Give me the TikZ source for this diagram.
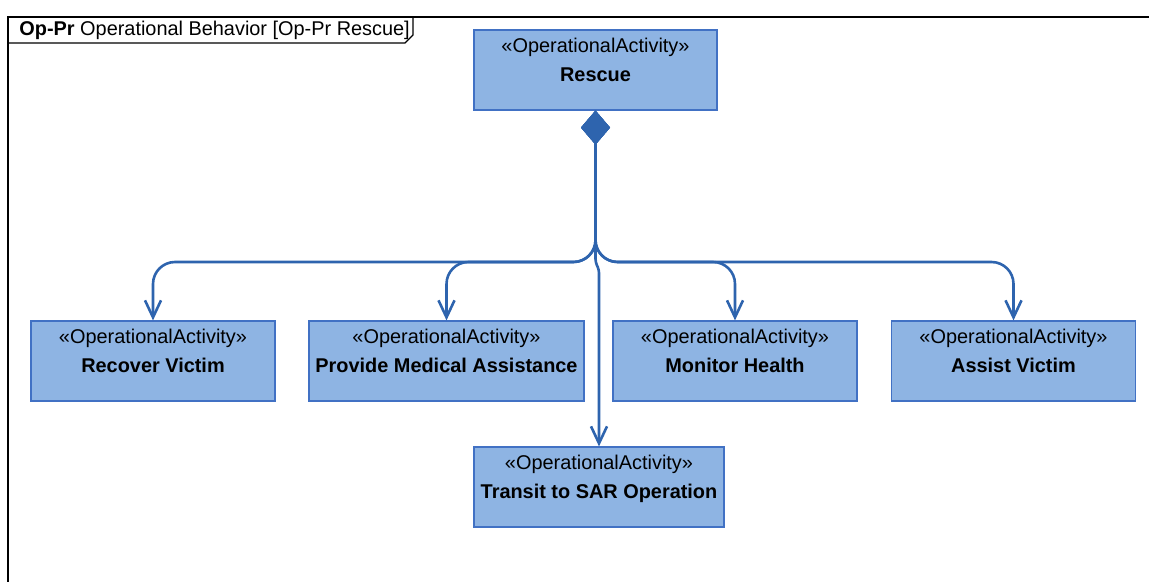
\documentclass[tikz,border=0pt]{standalone}
\usepackage{fontspec}
\setmainfont{Liberation Sans}
\usepackage{tikz}
\usetikzlibrary{arrows.meta}
\definecolor{actfill}{RGB}{142,180,227}
\definecolor{actdraw}{RGB}{65,113,196}
\definecolor{linkblue}{RGB}{46,100,174}
\newcommand{\actname}[1]{\textbf{#1}}
\tikzstyle{opact}=[rectangle, draw=actdraw, fill=actfill,% an operational activity box
line width=0.6pt, minimum width=122pt, minimum height=40pt, inner sep=0pt, align=center,
font=\fontsize{9.95}{14.5}\selectfont]
\tikzstyle{compo}=[{Diamond[length=17pt,width=14.5pt]}-{Straight Barb[length=8.5pt,width=8pt]},
draw=linkblue, line width=1.3pt, rounded corners=11pt]
\tikzstyle{frm}=[line width=0.7pt, black]

\begin{document}
\begin{tikzpicture}[x=0.5pt, y=-0.5pt]
\useasboundingbox (0,0) rectangle (1149,582);
% frame
\draw[frm] (1149,17) -- (8,17) -- (8,582);
\draw[frm] (8,43) -- (405,43) -- (413,35) -- (413,17);
\node[anchor=west, inner sep=0pt, font=\fontsize{9.95}{12}\selectfont] (title) at (19,30) {\textbf{Op-Pr} Operational Behavior [Op-Pr Rescue]};
% activities
\node[opact, minimum width=121.5pt] (rescue) at (595.5,70) {«OperationalActivity»\\\actname{Rescue}\\[-9pt]\strut};
\node[opact] (recover) at (153,361) {«OperationalActivity»\\\actname{Recover Victim}\\[-9pt]\strut};
\node[opact, minimum width=137.5pt] (provide) at (446.5,361) {«OperationalActivity»\\\actname{Provide Medical Assistance}\\[-9pt]\strut};
\node[opact] (monitor) at (735,361) {«OperationalActivity»\\\actname{Monitor Health}\\[-9pt]\strut};
\node[opact] (assist) at (1013.5,361) {«OperationalActivity»\\\actname{Assist Victim}\\[-9pt]\strut};
\node[opact, minimum width=125pt] (transit) at (599,487) {«OperationalActivity»\\\actname{Transit to SAR Operation}\\[-9pt]\strut};
\coordinate (bus) at (595.5,262);
% composition links
\draw[compo] (rescue.south) -- (rescue.south |- bus) -- (recover.north |- bus) -- (recover.north);
\draw[compo] (rescue.south) -- (rescue.south |- bus) -- (provide.north |- bus) -- (provide.north);
\draw[compo] (rescue.south) -- (rescue.south |- bus) -- (monitor.north |- bus) -- (monitor.north);
\draw[compo] (rescue.south) -- (rescue.south |- bus) -- (assist.north |- bus) -- (assist.north);
\draw[compo, rounded corners=1.5pt] (rescue.south) -- (rescue.south |- bus) -- ([yshift=-4pt]transit.north |- bus) -- (transit.north);
\end{tikzpicture}
\end{document}
